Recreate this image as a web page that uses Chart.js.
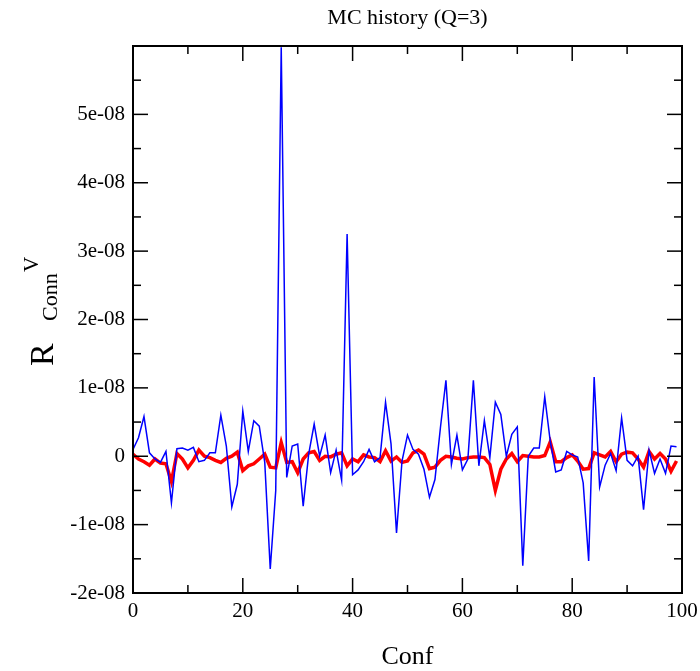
<!DOCTYPE html>
<html>
<head>
<meta charset="utf-8">
<script src="https://cdn.jsdelivr.net/npm/chart.js@4/dist/chart.umd.min.js"></script>
<style>
  html, body { margin: 0; padding: 0; background: #fff; }
  #wrap { width: 700px; height: 671px; }
</style>
</head>
<body>
<div id="wrap"><canvas id="mcChart" width="700" height="671"></canvas></div>
<script>
// values in units of 1e-08, one per configuration
const blueVals = [
  0.10, 0.27, 0.58, 0.05, -0.04, -0.09, 0.07, -0.68, 0.11, 0.12, 0.09, 0.13, -0.08, -0.06, 0.05, 0.05, 0.60, 0.15, -0.74, -0.41,
  0.66, 0.07, 0.52, 0.44, -0.09, -1.65, -0.50, 5.98, -0.31, 0.15, 0.18, -0.73, 0.03, 0.47, 0.00, 0.31, -0.24, 0.09, -0.35, 3.25,
  -0.27, -0.20, -0.08, 0.10, -0.08, -0.02, 0.79, 0.18, -1.12, -0.07, 0.31, 0.10, 0.03, -0.19, -0.60, -0.34, 0.42, 1.11, -0.12, 0.31,
  -0.20, -0.04, 1.11, -0.14, 0.52, -0.02, 0.79, 0.61, 0.00, 0.32, 0.43, -1.60, 0.00, 0.12, 0.12, 0.87, 0.22, -0.23, -0.20, 0.07,
  0.02, -0.01, -0.39, -1.53, 1.16, -0.45, -0.13, 0.04, -0.21, 0.56, -0.06, -0.14, 0.00, -0.78, 0.09, -0.25, -0.04, -0.25, 0.15, 0.14
];
const redVals = [
  0.03, -0.04, -0.08, -0.13, -0.04, -0.10, -0.11, -0.37, 0.04, -0.04, -0.17, -0.06, 0.09, 0.00, -0.02, -0.06, -0.09, -0.03, 0.00, 0.06,
  -0.21, -0.14, -0.11, -0.04, 0.03, -0.16, -0.17, 0.20, -0.09, -0.08, -0.24, -0.04, 0.05, 0.07, -0.06, 0.00, -0.01, 0.03, 0.05, -0.14,
  -0.04, -0.08, 0.02, -0.01, -0.02, -0.08, 0.08, -0.07, -0.01, -0.09, -0.07, 0.05, 0.09, 0.03, -0.18, -0.16, -0.06, 0.00, -0.01, -0.03,
  -0.04, -0.02, -0.01, -0.01, -0.02, -0.12, -0.50, -0.19, -0.04, 0.04, -0.08, 0.01, 0.00, -0.01, -0.01, 0.01, 0.21, -0.08, -0.08, -0.02,
  0.02, -0.07, -0.19, -0.18, 0.05, 0.02, -0.01, 0.07, -0.08, 0.03, 0.06, 0.05, -0.04, -0.16, 0.07, -0.04, 0.04, -0.04, -0.22, -0.07
];
const confs = blueVals.map((_, i) => i);

const xMajor = [0, 20, 40, 60, 80, 100];
const xMinor = [10, 30, 50, 70, 90];
const yMajor = [-2, -1, 0, 1, 2, 3, 4, 5];
const yMinor = [-1.5, -0.5, 0.5, 1.5, 2.5, 3.5, 4.5, 5.5];

const SERIF = "'Liberation Serif', 'DejaVu Serif', serif";

// frame, inward ticks on all four sides, titles
const frame = {
  id: 'frame',
  afterDraw(chart){
    const ctx = chart.ctx, a = chart.chartArea;
    const xs = chart.scales.x, ys = chart.scales.y;
    ctx.save();
    ctx.strokeStyle = '#000';
    ctx.lineWidth = 1.5;
    function tick(x1, y1, x2, y2){ ctx.beginPath(); ctx.moveTo(x1, y1); ctx.lineTo(x2, y2); ctx.stroke(); }
    xMajor.forEach(v => { const p = xs.getPixelForValue(v); tick(p, a.bottom, p, a.bottom - 15); tick(p, a.top, p, a.top + 15); });
    xMinor.forEach(v => { const p = xs.getPixelForValue(v); tick(p, a.bottom, p, a.bottom - 8); tick(p, a.top, p, a.top + 8); });
    yMajor.forEach(v => { const p = ys.getPixelForValue(v); tick(a.left, p, a.left + 15, p); tick(a.right, p, a.right - 15, p); });
    yMinor.forEach(v => { const p = ys.getPixelForValue(v); tick(a.left, p, a.left + 8, p); tick(a.right, p, a.right - 8, p); });
    ctx.lineWidth = 2;
    ctx.strokeRect(a.left, a.top, a.right - a.left, a.bottom - a.top);

    ctx.fillStyle = '#000';
    ctx.textBaseline = 'middle';
    ctx.textAlign = 'center';
    ctx.font = '22px ' + SERIF;
    ctx.fillText('MC history (Q=3)', (a.left + a.right) / 2, 18);
    ctx.font = '26px ' + SERIF;
    ctx.fillText('Conf', (a.left + a.right) / 2, 657);

    // y title: R_Conn^V, rotated
    ctx.textBaseline = 'alphabetic';
    ctx.textAlign = 'left';
    function rot(text, font, bx, sy){
      ctx.save(); ctx.translate(bx, sy); ctx.rotate(-Math.PI / 2);
      ctx.font = font; ctx.fillText(text, 0, 0); ctx.restore();
    }
    rot('R', '34px ' + SERIF, 53, 366);
    rot('Conn', '22px ' + SERIF, 57, 321);
    rot('V', '21px ' + SERIF, 38, 272);
    ctx.restore();
  }
};

new Chart(document.getElementById('mcChart').getContext('2d'), {
  type: 'line',
  data: {
    datasets: [
      { data: confs.map((c, i) => ({ x: c, y: blueVals[i] })), borderColor: '#0000ff', borderWidth: 1.5, pointRadius: 0, tension: 0 },
      { data: confs.map((c, i) => ({ x: c, y: redVals[i] })), borderColor: '#ff0000', borderWidth: 3.5, pointRadius: 0, tension: 0 }
    ]
  },
  options: {
    responsive: false,
    animation: false,
    layout: { padding: { top: 46, right: 18, left: 0, bottom: 0 } },
    plugins: { legend: { display: false }, tooltip: { enabled: false } },
    scales: {
      x: {
        type: 'linear', min: 0, max: 100,
        grid: { display: false, drawTicks: false, tickLength: 0 }, border: { display: false },
        ticks: { stepSize: 20, padding: 6, color: '#000', maxRotation: 0, font: { family: SERIF, size: 21 } },
        afterFit(s){ s.height = 78; s.paddingLeft = 0; s.paddingRight = 0; }
      },
      y: {
        min: -2, max: 6,
        grid: { display: false, drawTicks: false, tickLength: 0 }, border: { display: false },
        ticks: {
          stepSize: 1, padding: 8, color: '#000', font: { family: SERIF, size: 21 },
          callback: v => v === 6 ? '' : (v === 0 ? '0' : v + 'e-08')
        },
        afterFit(s){ s.width = 133; s.paddingTop = 0; s.paddingBottom = 0; }
      }
    }
  },
  plugins: [frame]
});
</script>
</body>
</html>
